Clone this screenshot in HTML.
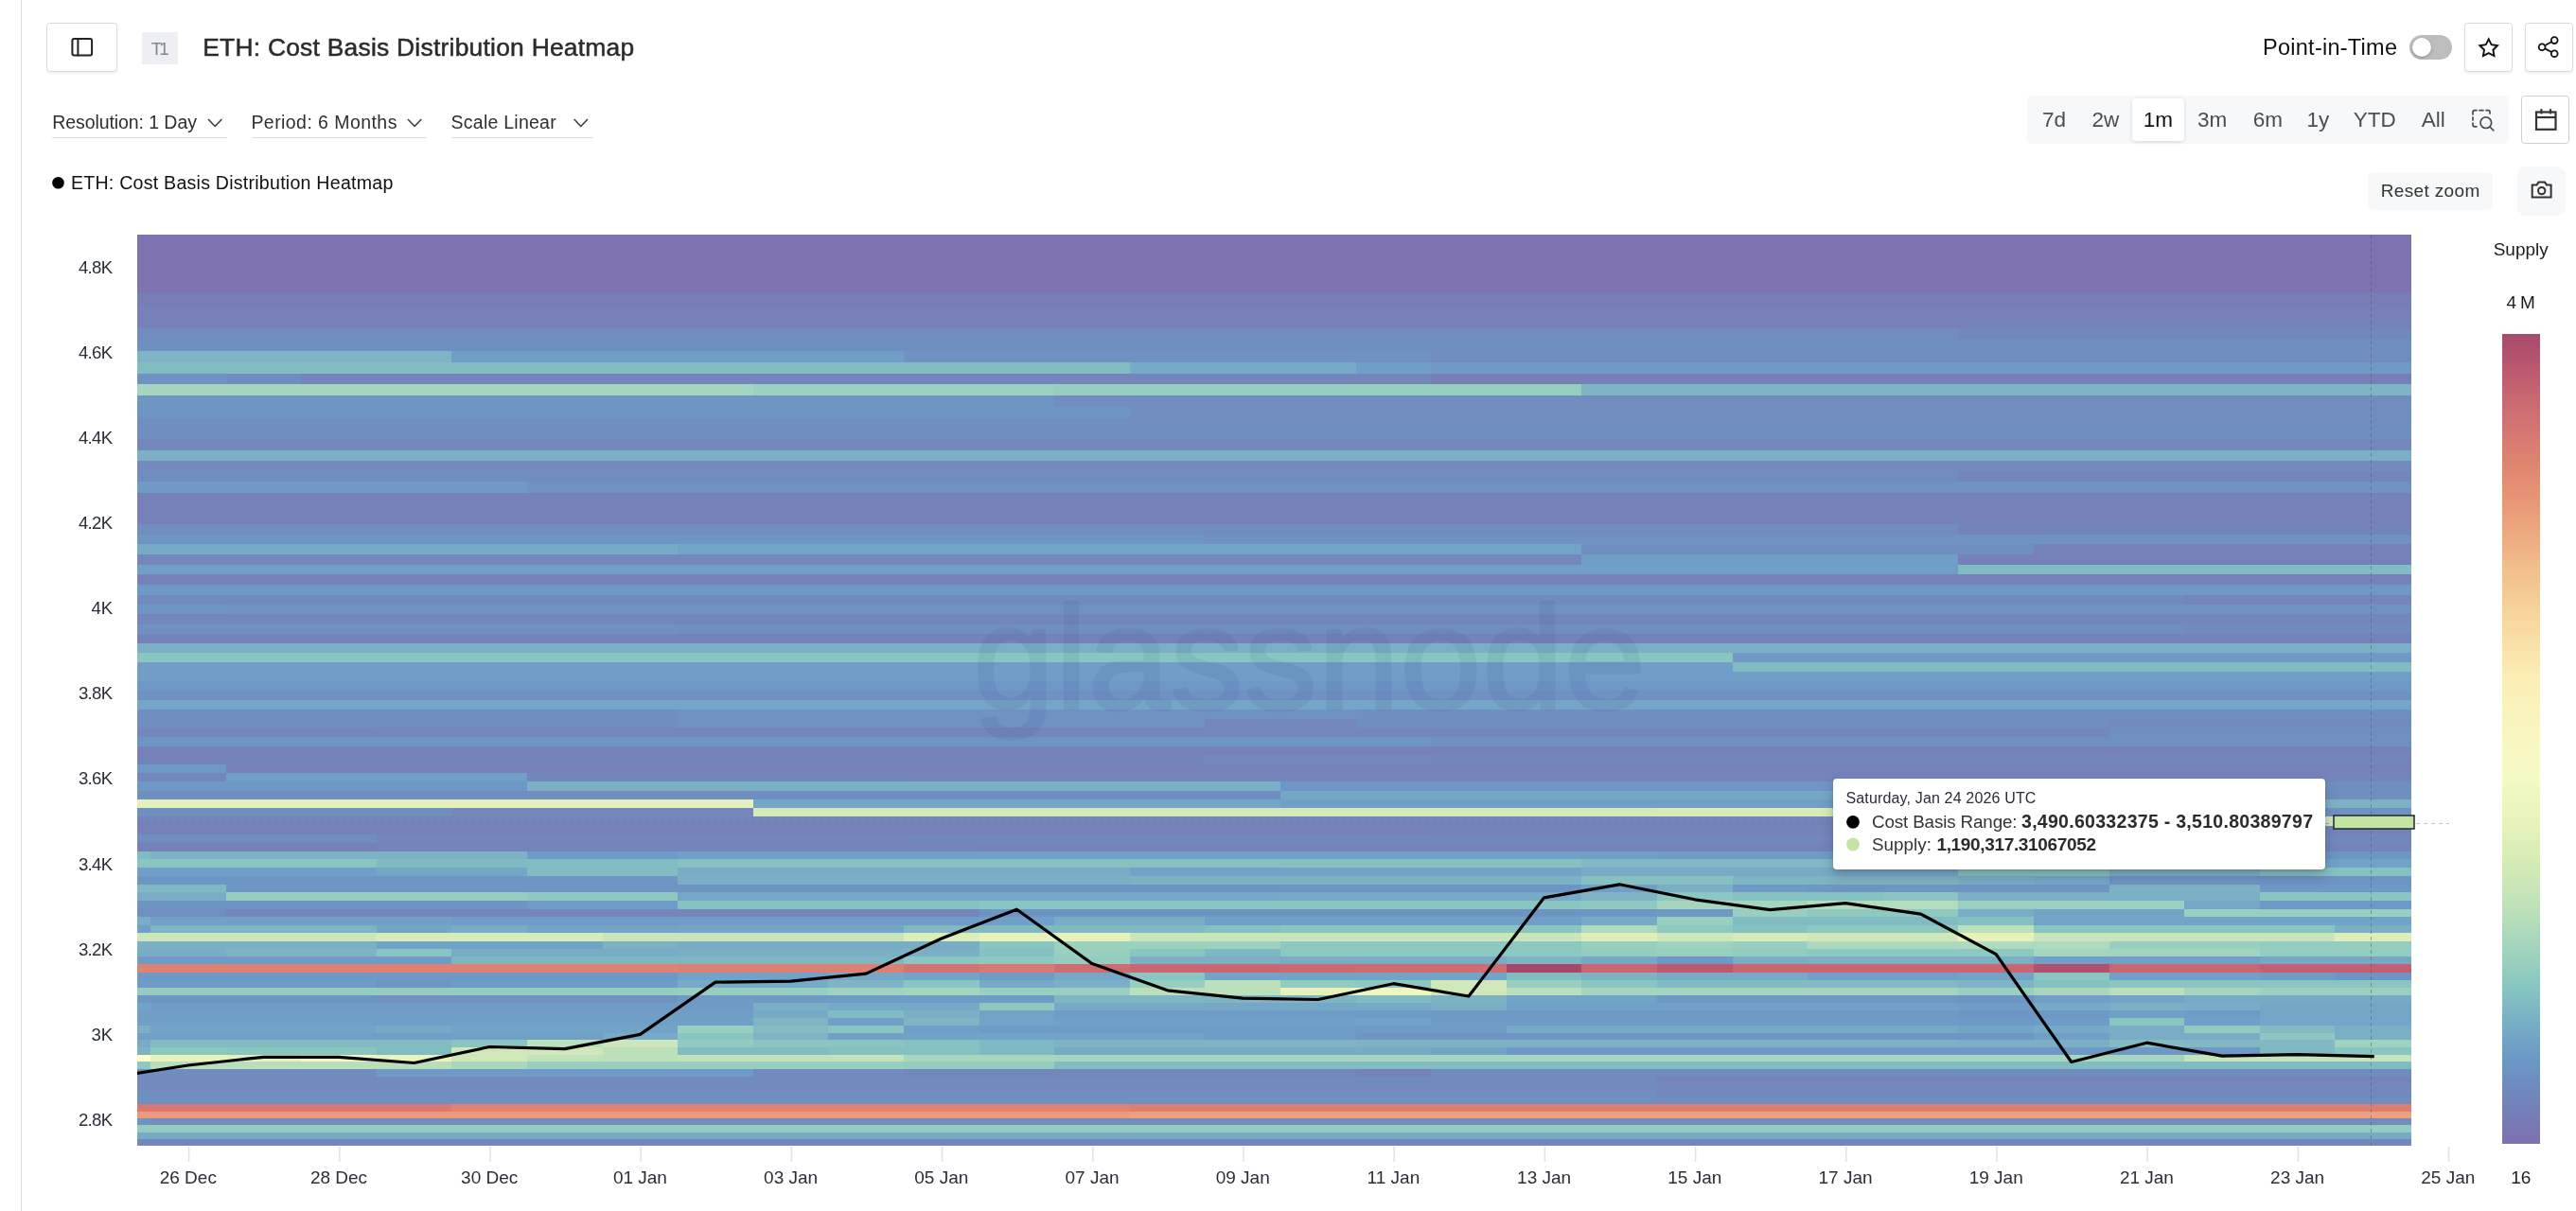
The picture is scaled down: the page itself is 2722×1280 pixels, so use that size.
<!DOCTYPE html><html><head><meta charset="utf-8"><title>ETH: Cost Basis Distribution Heatmap</title>
<style>
html,body{margin:0;padding:0;background:#fff;}
body{width:2722px;height:1280px;position:relative;overflow:hidden;font-family:"Liberation Sans", Arial, Helvetica, sans-serif;color:#222;}
.abs{position:absolute;box-sizing:border-box;}
.btn{border:1.5px solid #d8d8d8;border-radius:3.5px;background:#fff;box-shadow:0 2px 3px rgba(0,0,0,0.05);}
.soft{background:#f7f8fa;}
svg{position:absolute;left:0;top:0;will-change:transform;}
svg text{font-family:"Liberation Sans", Arial, Helvetica, sans-serif;}
#tip{position:absolute;left:1937px;top:823px;width:520px;height:96px;background:#fff;border-radius:4px;box-shadow:0 6px 14px rgba(30,40,60,0.28),0 1px 3px rgba(30,40,60,0.18);}
</style></head><body>
<div class="abs" style="left:22px;top:0;width:1px;height:1280px;background:#dcdcdc"></div>
<div class="abs btn" style="left:49px;top:24px;width:75px;height:52px"></div>
<div class="abs" style="left:150px;top:34px;width:38px;height:34px;background:#eeeff4"></div>
<div class="abs" style="left:2546px;top:37px;width:45px;height:26px;border-radius:13px;background:#bdbdbd"></div>
<div class="abs" style="left:2549px;top:40px;width:20px;height:20px;border-radius:10px;background:#fff;box-shadow:0 1px 3px rgba(0,0,0,0.3)"></div>
<div class="abs btn" style="left:2604px;top:24px;width:51px;height:52px"></div>
<div class="abs btn" style="left:2668px;top:24px;width:51px;height:52px"></div>
<div class="abs soft" style="left:2142px;top:101px;width:509px;height:51px;border-radius:5px"></div>
<div class="abs" style="left:2253px;top:104px;width:55px;height:45px;border-radius:4px;background:#fff;box-shadow:0 1px 4px rgba(0,0,0,0.14)"></div>
<div class="abs btn" style="left:2664px;top:101px;width:51px;height:51px;box-shadow:none;border-color:#cfcfcf"></div>
<div class="abs soft" style="left:2502px;top:182px;width:132px;height:40px;border-radius:7px"></div>
<div class="abs soft" style="left:2660px;top:176px;width:51px;height:52px;border-radius:9px"></div>
<div class="abs" style="left:55px;top:144.5px;width:184.5px;height:1.5px;background:#dcdcdc"></div>
<div class="abs" style="left:265.5px;top:144.5px;width:185px;height:1.5px;background:#dcdcdc"></div>
<div class="abs" style="left:476.5px;top:144.5px;width:150.5px;height:1.5px;background:#dcdcdc"></div>
<svg width="2722" height="1280" viewBox="0 0 2722 1280">
<g shape-rendering="crispEdges">
<rect x="145" y="248" width="2403" height="12" fill="#7e72b1"/>
<rect x="145" y="260" width="2403" height="13" fill="#7e72b1"/>
<rect x="145" y="273" width="2403" height="12" fill="#7e72b1"/>
<rect x="145" y="285" width="2403" height="13" fill="#7e72b1"/>
<rect x="145" y="298" width="2403" height="12" fill="#7e72b1"/>
<rect x="145" y="310" width="2403" height="12" fill="#787cb7"/>
<rect x="145" y="322" width="2403" height="13" fill="#7680b9"/>
<rect x="145" y="335" width="2403" height="12" fill="#7680b9"/>
<rect x="145" y="347" width="1924.4" height="12" fill="#718cbf"/>
<rect x="2069.4" y="347" width="478.6" height="12" fill="#7288bd"/>
<rect x="145" y="359" width="2403" height="12" fill="#708fc1"/>
<rect x="145" y="371" width="332.4" height="12" fill="#7eb4c4"/>
<rect x="477.4" y="371" width="477.6" height="12" fill="#709ec7"/>
<rect x="955" y="371" width="557.2" height="12" fill="#6f92c3"/>
<rect x="1512.2" y="371" width="1035.8" height="12" fill="#718cbf"/>
<rect x="145" y="383" width="1048.8" height="12" fill="#82bcc3"/>
<rect x="1193.8" y="383" width="238.8" height="12" fill="#76aac6"/>
<rect x="1432.6" y="383" width="79.6" height="12" fill="#709ec7"/>
<rect x="1512.2" y="383" width="1035.8" height="12" fill="#6f9ac6"/>
<rect x="145" y="395" width="93.6" height="11" fill="#6f92c3"/>
<rect x="238.6" y="395" width="79.6" height="11" fill="#718cbf"/>
<rect x="318.2" y="395" width="1194" height="11" fill="#7485bb"/>
<rect x="1512.2" y="395" width="1035.8" height="11" fill="#777eb8"/>
<rect x="145" y="406" width="650.8" height="12" fill="#a5d5be"/>
<rect x="795.8" y="406" width="318.4" height="12" fill="#9dd1bf"/>
<rect x="1114.2" y="406" width="557.2" height="12" fill="#96cec0"/>
<rect x="1671.4" y="406" width="876.6" height="12" fill="#7eb4c4"/>
<rect x="145" y="418" width="969.2" height="12" fill="#6e96c5"/>
<rect x="1114.2" y="418" width="1433.8" height="12" fill="#718cbf"/>
<rect x="145" y="430" width="1048.8" height="11" fill="#6e96c5"/>
<rect x="1193.8" y="430" width="1354.2" height="11" fill="#708dc0"/>
<rect x="145" y="441" width="1048.8" height="12" fill="#708fc1"/>
<rect x="1193.8" y="441" width="1354.2" height="12" fill="#718cbf"/>
<rect x="145" y="453" width="2403" height="11" fill="#708fc1"/>
<rect x="145" y="464" width="2403" height="12" fill="#7387bc"/>
<rect x="145" y="476" width="2403" height="11" fill="#7bafc5"/>
<rect x="145" y="487" width="2403" height="11" fill="#728abe"/>
<rect x="145" y="498" width="1924.4" height="11" fill="#718cbf"/>
<rect x="2069.4" y="498" width="478.6" height="11" fill="#7485bb"/>
<rect x="145" y="509" width="412" height="12" fill="#6f9ac6"/>
<rect x="557" y="509" width="1991" height="12" fill="#6f92c3"/>
<rect x="145" y="521" width="2403" height="11" fill="#7680b9"/>
<rect x="145" y="532" width="2403" height="11" fill="#7680b9"/>
<rect x="145" y="543" width="2403" height="11" fill="#7680b9"/>
<rect x="145" y="554" width="1924.4" height="11" fill="#718cbf"/>
<rect x="2069.4" y="554" width="478.6" height="11" fill="#7484ba"/>
<rect x="145" y="565" width="1128.4" height="10" fill="#6e96c5"/>
<rect x="1273.4" y="565" width="1274.6" height="10" fill="#6f92c3"/>
<rect x="145" y="575" width="571.2" height="11" fill="#76aac6"/>
<rect x="716.2" y="575" width="955.2" height="11" fill="#72a4c7"/>
<rect x="1671.4" y="575" width="477.6" height="11" fill="#708fc1"/>
<rect x="2149" y="575" width="399" height="11" fill="#7680b9"/>
<rect x="145" y="586" width="1526.4" height="11" fill="#7387bc"/>
<rect x="1671.4" y="586" width="398" height="11" fill="#709ec7"/>
<rect x="2069.4" y="586" width="478.6" height="11" fill="#7680b9"/>
<rect x="145" y="597" width="1924.4" height="10" fill="#709ec7"/>
<rect x="2069.4" y="597" width="478.6" height="10" fill="#82bcc3"/>
<rect x="145" y="607" width="2403" height="11" fill="#7680b9"/>
<rect x="145" y="618" width="2403" height="11" fill="#6e98c6"/>
<rect x="145" y="629" width="2163.2" height="10" fill="#728abe"/>
<rect x="2308.2" y="629" width="239.8" height="10" fill="#7485bb"/>
<rect x="145" y="639" width="93.6" height="10" fill="#6e96c5"/>
<rect x="238.6" y="639" width="2309.4" height="10" fill="#6f92c3"/>
<rect x="145" y="649" width="2403" height="11" fill="#7387bc"/>
<rect x="145" y="660" width="571.2" height="10" fill="#6f92c3"/>
<rect x="716.2" y="660" width="1592" height="10" fill="#708fc1"/>
<rect x="2308.2" y="660" width="239.8" height="10" fill="#728abe"/>
<rect x="145" y="670" width="2403" height="10" fill="#7484ba"/>
<rect x="145" y="680" width="2403" height="10" fill="#7bafc5"/>
<rect x="145" y="690" width="1685.6" height="10" fill="#8ac6c1"/>
<rect x="1830.6" y="690" width="717.4" height="10" fill="#6f9ac6"/>
<rect x="145" y="700" width="1685.6" height="10" fill="#709ec7"/>
<rect x="1830.6" y="700" width="717.4" height="10" fill="#82bcc3"/>
<rect x="145" y="710" width="2403" height="10" fill="#709ec7"/>
<rect x="145" y="720" width="2403" height="10" fill="#6e98c6"/>
<rect x="145" y="730" width="2403" height="10" fill="#6f92c3"/>
<rect x="145" y="740" width="2403" height="10" fill="#74a6c7"/>
<rect x="145" y="750" width="571.2" height="10" fill="#708fc1"/>
<rect x="716.2" y="750" width="716.4" height="10" fill="#6f92c3"/>
<rect x="1432.6" y="750" width="1115.4" height="10" fill="#708fc1"/>
<rect x="145" y="760" width="252.8" height="9" fill="#708fc1"/>
<rect x="397.8" y="760" width="318.4" height="9" fill="#708dc0"/>
<rect x="716.2" y="760" width="557.2" height="9" fill="#6f92c3"/>
<rect x="1273.4" y="760" width="159.2" height="9" fill="#7387bc"/>
<rect x="1432.6" y="760" width="796" height="9" fill="#708fc1"/>
<rect x="2228.6" y="760" width="319.4" height="9" fill="#728abe"/>
<rect x="145" y="769" width="2083.6" height="10" fill="#7387bc"/>
<rect x="2228.6" y="769" width="319.4" height="10" fill="#708fc1"/>
<rect x="145" y="779" width="1367.2" height="10" fill="#6e94c4"/>
<rect x="1512.2" y="779" width="1035.8" height="10" fill="#6f91c2"/>
<rect x="145" y="789" width="2403" height="9" fill="#7680b9"/>
<rect x="145" y="798" width="1128.4" height="10" fill="#7484ba"/>
<rect x="1273.4" y="798" width="238.8" height="10" fill="#7387bc"/>
<rect x="1512.2" y="798" width="1035.8" height="10" fill="#7485bb"/>
<rect x="145" y="808" width="93.6" height="9" fill="#6e98c6"/>
<rect x="238.6" y="808" width="2309.4" height="9" fill="#7680b9"/>
<rect x="145" y="817" width="93.6" height="9" fill="#7288bd"/>
<rect x="238.6" y="817" width="318.4" height="9" fill="#70a0c8"/>
<rect x="557" y="817" width="398" height="9" fill="#7288bd"/>
<rect x="955" y="817" width="1593" height="9" fill="#7485bb"/>
<rect x="145" y="826" width="412" height="10" fill="#6e98c6"/>
<rect x="557" y="826" width="796" height="10" fill="#7bafc5"/>
<rect x="1353" y="826" width="1034.8" height="10" fill="#6e96c5"/>
<rect x="2387.8" y="826" width="160.2" height="10" fill="#708fc1"/>
<rect x="145" y="836" width="1208" height="9" fill="#708fc1"/>
<rect x="1353" y="836" width="1034.8" height="9" fill="#75a8c6"/>
<rect x="2387.8" y="836" width="160.2" height="9" fill="#708fc1"/>
<rect x="145" y="845" width="650.8" height="9" fill="#e4f0b9"/>
<rect x="795.8" y="845" width="557.2" height="9" fill="#74a6c7"/>
<rect x="1353" y="845" width="1034.8" height="9" fill="#70a0c8"/>
<rect x="2387.8" y="845" width="160.2" height="9" fill="#7db2c4"/>
<rect x="145" y="854" width="332.4" height="9" fill="#708fc1"/>
<rect x="477.4" y="854" width="318.4" height="9" fill="#7387bc"/>
<rect x="795.8" y="854" width="955.2" height="9" fill="#d5e9ba"/>
<rect x="1751" y="854" width="636.8" height="9" fill="#daebba"/>
<rect x="2387.8" y="854" width="160.2" height="9" fill="#6f92c3"/>
<rect x="145" y="863" width="2242.8" height="10" fill="#7484ba"/>
<rect x="2387.8" y="863" width="160.2" height="10" fill="#d5e9ba"/>
<rect x="145" y="873" width="1367.2" height="9" fill="#7681b9"/>
<rect x="1512.2" y="873" width="1035.8" height="9" fill="#7484ba"/>
<rect x="145" y="882" width="252.8" height="9" fill="#708dc0"/>
<rect x="397.8" y="882" width="557.2" height="9" fill="#7485bb"/>
<rect x="955" y="882" width="1593" height="9" fill="#7288bd"/>
<rect x="145" y="891" width="252.8" height="9" fill="#7582ba"/>
<rect x="397.8" y="891" width="636.8" height="9" fill="#7485bb"/>
<rect x="1034.6" y="891" width="1513.4" height="9" fill="#7484ba"/>
<rect x="145" y="900" width="14" height="8" fill="#82bcc3"/>
<rect x="159" y="900" width="398" height="8" fill="#7db2c4"/>
<rect x="557" y="900" width="159.2" height="8" fill="#6f9cc7"/>
<rect x="716.2" y="900" width="1034.8" height="8" fill="#70a0c8"/>
<rect x="1751" y="900" width="636.8" height="8" fill="#6f9cc7"/>
<rect x="2387.8" y="900" width="160.2" height="8" fill="#6e96c5"/>
<rect x="145" y="908" width="252.8" height="9" fill="#8ac6c1"/>
<rect x="397.8" y="908" width="159.2" height="9" fill="#81bac3"/>
<rect x="557" y="908" width="159.2" height="9" fill="#82bcc3"/>
<rect x="716.2" y="908" width="955.2" height="9" fill="#86c1c2"/>
<rect x="1671.4" y="908" width="716.4" height="9" fill="#80b8c3"/>
<rect x="2387.8" y="908" width="160.2" height="9" fill="#71a2c8"/>
<rect x="145" y="917" width="252.8" height="9" fill="#70a0c8"/>
<rect x="397.8" y="917" width="159.2" height="9" fill="#75a8c6"/>
<rect x="557" y="917" width="159.2" height="9" fill="#82bcc3"/>
<rect x="716.2" y="917" width="477.6" height="9" fill="#78adc5"/>
<rect x="1193.8" y="917" width="159.2" height="9" fill="#71a2c8"/>
<rect x="1353" y="917" width="318.4" height="9" fill="#72a4c7"/>
<rect x="1671.4" y="917" width="398" height="9" fill="#76aac6"/>
<rect x="2069.4" y="917" width="159.2" height="9" fill="#8ac6c1"/>
<rect x="2228.6" y="917" width="159.2" height="9" fill="#7db2c4"/>
<rect x="2387.8" y="917" width="160.2" height="9" fill="#86c1c2"/>
<rect x="145" y="926" width="571.2" height="9" fill="#6e96c5"/>
<rect x="716.2" y="926" width="477.6" height="9" fill="#7bafc5"/>
<rect x="1193.8" y="926" width="477.6" height="9" fill="#7db2c4"/>
<rect x="1671.4" y="926" width="159.2" height="9" fill="#86c1c2"/>
<rect x="1830.6" y="926" width="238.8" height="9" fill="#7eb4c4"/>
<rect x="2069.4" y="926" width="79.6" height="9" fill="#78adc5"/>
<rect x="2149" y="926" width="79.6" height="9" fill="#75a8c6"/>
<rect x="2228.6" y="926" width="319.4" height="9" fill="#6e94c4"/>
<rect x="145" y="935" width="93.6" height="8" fill="#80b8c3"/>
<rect x="238.6" y="935" width="477.6" height="8" fill="#6e96c5"/>
<rect x="716.2" y="935" width="955.2" height="8" fill="#6e94c4"/>
<rect x="1671.4" y="935" width="79.6" height="8" fill="#70a0c8"/>
<rect x="1751" y="935" width="79.6" height="8" fill="#7bafc5"/>
<rect x="1830.6" y="935" width="79.6" height="8" fill="#6e98c6"/>
<rect x="1910.2" y="935" width="318.4" height="8" fill="#6e96c5"/>
<rect x="2228.6" y="935" width="159.2" height="8" fill="#7db2c4"/>
<rect x="2387.8" y="935" width="160.2" height="8" fill="#6e98c6"/>
<rect x="145" y="943" width="93.6" height="9" fill="#78adc5"/>
<rect x="238.6" y="943" width="318.4" height="9" fill="#94cdc0"/>
<rect x="557" y="943" width="159.2" height="9" fill="#8ec9c1"/>
<rect x="716.2" y="943" width="636.8" height="9" fill="#75a8c6"/>
<rect x="1353" y="943" width="318.4" height="9" fill="#76aac6"/>
<rect x="1671.4" y="943" width="79.6" height="9" fill="#7eb4c4"/>
<rect x="1751" y="943" width="79.6" height="9" fill="#8cc7c1"/>
<rect x="1830.6" y="943" width="159.2" height="9" fill="#86c1c2"/>
<rect x="1989.8" y="943" width="79.6" height="9" fill="#8ac6c1"/>
<rect x="2069.4" y="943" width="318.4" height="9" fill="#7bafc5"/>
<rect x="2387.8" y="943" width="160.2" height="9" fill="#8ac6c1"/>
<rect x="145" y="952" width="412" height="9" fill="#6e94c4"/>
<rect x="557" y="952" width="159.2" height="9" fill="#6f9cc7"/>
<rect x="716.2" y="952" width="318.4" height="9" fill="#86c1c2"/>
<rect x="1034.6" y="952" width="636.8" height="9" fill="#8ac6c1"/>
<rect x="1671.4" y="952" width="79.6" height="9" fill="#8ec9c1"/>
<rect x="1751" y="952" width="159.2" height="9" fill="#a5d5be"/>
<rect x="1910.2" y="952" width="159.2" height="9" fill="#b2dcbc"/>
<rect x="2069.4" y="952" width="238.8" height="9" fill="#98cfc0"/>
<rect x="2308.2" y="952" width="79.6" height="9" fill="#75a8c6"/>
<rect x="2387.8" y="952" width="160.2" height="9" fill="#6e98c6"/>
<rect x="145" y="961" width="93.6" height="8" fill="#708fc1"/>
<rect x="238.6" y="961" width="796" height="8" fill="#7387bc"/>
<rect x="1034.6" y="961" width="636.8" height="8" fill="#6e94c4"/>
<rect x="1671.4" y="961" width="79.6" height="8" fill="#6e96c5"/>
<rect x="1751" y="961" width="79.6" height="8" fill="#6e98c6"/>
<rect x="1830.6" y="961" width="79.6" height="8" fill="#98cfc0"/>
<rect x="1910.2" y="961" width="159.2" height="8" fill="#8ec9c1"/>
<rect x="2069.4" y="961" width="79.6" height="8" fill="#78adc5"/>
<rect x="2149" y="961" width="159.2" height="8" fill="#72a4c7"/>
<rect x="2308.2" y="961" width="239.8" height="8" fill="#98cfc0"/>
<rect x="145" y="969" width="14" height="9" fill="#78adc5"/>
<rect x="159" y="969" width="318.4" height="9" fill="#70a0c8"/>
<rect x="477.4" y="969" width="557.2" height="9" fill="#6f9cc7"/>
<rect x="1034.6" y="969" width="79.6" height="9" fill="#70a0c8"/>
<rect x="1114.2" y="969" width="159.2" height="9" fill="#78adc5"/>
<rect x="1273.4" y="969" width="398" height="9" fill="#70a0c8"/>
<rect x="1671.4" y="969" width="79.6" height="9" fill="#76aac6"/>
<rect x="1751" y="969" width="79.6" height="9" fill="#98cfc0"/>
<rect x="1830.6" y="969" width="238.8" height="9" fill="#82bcc3"/>
<rect x="2069.4" y="969" width="79.6" height="9" fill="#86c1c2"/>
<rect x="2149" y="969" width="399" height="9" fill="#72a4c7"/>
<rect x="145" y="978" width="14" height="8" fill="#70a0c8"/>
<rect x="159" y="978" width="238.8" height="8" fill="#7eb4c4"/>
<rect x="397.8" y="978" width="79.6" height="8" fill="#74a6c7"/>
<rect x="477.4" y="978" width="79.6" height="8" fill="#78adc5"/>
<rect x="557" y="978" width="159.2" height="8" fill="#72a4c7"/>
<rect x="716.2" y="978" width="238.8" height="8" fill="#74a6c7"/>
<rect x="955" y="978" width="318.4" height="8" fill="#80b8c3"/>
<rect x="1273.4" y="978" width="79.6" height="8" fill="#86c1c2"/>
<rect x="1353" y="978" width="318.4" height="8" fill="#8ac6c1"/>
<rect x="1671.4" y="978" width="79.6" height="8" fill="#aedabd"/>
<rect x="1751" y="978" width="79.6" height="8" fill="#8ec9c1"/>
<rect x="1830.6" y="978" width="79.6" height="8" fill="#86c1c2"/>
<rect x="1910.2" y="978" width="159.2" height="8" fill="#8ec9c1"/>
<rect x="2069.4" y="978" width="79.6" height="8" fill="#bde0bc"/>
<rect x="2149" y="978" width="318.4" height="8" fill="#8ac6c1"/>
<rect x="2467.4" y="978" width="80.6" height="8" fill="#7bafc5"/>
<rect x="145" y="986" width="252.8" height="9" fill="#cde6bb"/>
<rect x="397.8" y="986" width="238.8" height="9" fill="#d8ebba"/>
<rect x="636.6" y="986" width="318.4" height="9" fill="#cae5bc"/>
<rect x="955" y="986" width="79.6" height="9" fill="#dcedb9"/>
<rect x="1034.6" y="986" width="159.2" height="9" fill="#e7f2bb"/>
<rect x="1193.8" y="986" width="477.6" height="9" fill="#cae5bc"/>
<rect x="1671.4" y="986" width="79.6" height="9" fill="#deedb9"/>
<rect x="1751" y="986" width="79.6" height="9" fill="#cde6bb"/>
<rect x="1830.6" y="986" width="79.6" height="9" fill="#d6eaba"/>
<rect x="1910.2" y="986" width="159.2" height="9" fill="#d0e7ba"/>
<rect x="2069.4" y="986" width="79.6" height="9" fill="#e7f2bb"/>
<rect x="2149" y="986" width="318.4" height="9" fill="#cae5bc"/>
<rect x="2467.4" y="986" width="80.6" height="9" fill="#deedb9"/>
<rect x="145" y="995" width="252.8" height="8" fill="#7bafc5"/>
<rect x="397.8" y="995" width="238.8" height="8" fill="#71a2c8"/>
<rect x="636.6" y="995" width="79.6" height="8" fill="#7db2c4"/>
<rect x="716.2" y="995" width="318.4" height="8" fill="#78adc5"/>
<rect x="1034.6" y="995" width="79.6" height="8" fill="#8ac6c1"/>
<rect x="1114.2" y="995" width="238.8" height="8" fill="#9cd1bf"/>
<rect x="1353" y="995" width="318.4" height="8" fill="#8ec9c1"/>
<rect x="1671.4" y="995" width="79.6" height="8" fill="#98cfc0"/>
<rect x="1751" y="995" width="79.6" height="8" fill="#9fd2bf"/>
<rect x="1830.6" y="995" width="79.6" height="8" fill="#98cfc0"/>
<rect x="1910.2" y="995" width="159.2" height="8" fill="#acd8bd"/>
<rect x="2069.4" y="995" width="159.2" height="8" fill="#aedabd"/>
<rect x="2228.6" y="995" width="159.2" height="8" fill="#98cfc0"/>
<rect x="2387.8" y="995" width="160.2" height="8" fill="#94cdc0"/>
<rect x="145" y="1003" width="93.6" height="8" fill="#78adc5"/>
<rect x="238.6" y="1003" width="159.2" height="8" fill="#7eb4c4"/>
<rect x="397.8" y="1003" width="79.6" height="8" fill="#8ac6c1"/>
<rect x="477.4" y="1003" width="238.8" height="8" fill="#78adc5"/>
<rect x="716.2" y="1003" width="318.4" height="8" fill="#7bafc5"/>
<rect x="1034.6" y="1003" width="79.6" height="8" fill="#86c1c2"/>
<rect x="1114.2" y="1003" width="79.6" height="8" fill="#98cfc0"/>
<rect x="1193.8" y="1003" width="79.6" height="8" fill="#8ac6c1"/>
<rect x="1273.4" y="1003" width="79.6" height="8" fill="#7fb6c4"/>
<rect x="1353" y="1003" width="318.4" height="8" fill="#8ec9c1"/>
<rect x="1671.4" y="1003" width="79.6" height="8" fill="#94cdc0"/>
<rect x="1751" y="1003" width="79.6" height="8" fill="#98cfc0"/>
<rect x="1830.6" y="1003" width="79.6" height="8" fill="#92ccc0"/>
<rect x="1910.2" y="1003" width="238.8" height="8" fill="#8ec9c1"/>
<rect x="2149" y="1003" width="79.6" height="8" fill="#a5d5be"/>
<rect x="2228.6" y="1003" width="159.2" height="8" fill="#a1d3be"/>
<rect x="2387.8" y="1003" width="160.2" height="8" fill="#94cdc0"/>
<rect x="145" y="1011" width="332.4" height="8" fill="#6f9cc7"/>
<rect x="477.4" y="1011" width="477.6" height="8" fill="#7fb6c4"/>
<rect x="955" y="1011" width="79.6" height="8" fill="#8ac6c1"/>
<rect x="1034.6" y="1011" width="79.6" height="8" fill="#8ec9c1"/>
<rect x="1114.2" y="1011" width="79.6" height="8" fill="#94cdc0"/>
<rect x="1193.8" y="1011" width="159.2" height="8" fill="#7bafc5"/>
<rect x="1353" y="1011" width="238.8" height="8" fill="#78adc5"/>
<rect x="1591.8" y="1011" width="79.6" height="8" fill="#7eb4c4"/>
<rect x="1671.4" y="1011" width="79.6" height="8" fill="#75a8c6"/>
<rect x="1751" y="1011" width="79.6" height="8" fill="#6e98c6"/>
<rect x="1830.6" y="1011" width="79.6" height="8" fill="#78adc5"/>
<rect x="1910.2" y="1011" width="238.8" height="8" fill="#7bafc5"/>
<rect x="2149" y="1011" width="238.8" height="8" fill="#70a0c8"/>
<rect x="2387.8" y="1011" width="160.2" height="8" fill="#75a8c6"/>
<rect x="145" y="1019" width="571.2" height="9" fill="#e08173"/>
<rect x="716.2" y="1019" width="238.8" height="9" fill="#de7f74"/>
<rect x="955" y="1019" width="79.6" height="9" fill="#d47174"/>
<rect x="1034.6" y="1019" width="79.6" height="9" fill="#d87976"/>
<rect x="1114.2" y="1019" width="79.6" height="9" fill="#d06b72"/>
<rect x="1193.8" y="1019" width="159.2" height="9" fill="#cd6470"/>
<rect x="1353" y="1019" width="79.6" height="9" fill="#cf6871"/>
<rect x="1432.6" y="1019" width="159.2" height="9" fill="#d06b72"/>
<rect x="1591.8" y="1019" width="79.6" height="9" fill="#a7476b"/>
<rect x="1671.4" y="1019" width="79.6" height="9" fill="#cd6470"/>
<rect x="1751" y="1019" width="79.6" height="9" fill="#bd586e"/>
<rect x="1830.6" y="1019" width="318.4" height="9" fill="#cd6470"/>
<rect x="2149" y="1019" width="79.6" height="9" fill="#b3506d"/>
<rect x="2228.6" y="1019" width="159.2" height="9" fill="#cd6470"/>
<rect x="2387.8" y="1019" width="160.2" height="9" fill="#c55e6f"/>
<rect x="145" y="1028" width="571.2" height="8" fill="#6e98c6"/>
<rect x="716.2" y="1028" width="159.2" height="8" fill="#71a2c8"/>
<rect x="875.4" y="1028" width="79.6" height="8" fill="#75a8c6"/>
<rect x="955" y="1028" width="79.6" height="8" fill="#72a4c7"/>
<rect x="1034.6" y="1028" width="79.6" height="8" fill="#6f9cc7"/>
<rect x="1114.2" y="1028" width="79.6" height="8" fill="#75a8c6"/>
<rect x="1193.8" y="1028" width="79.6" height="8" fill="#8ac6c1"/>
<rect x="1273.4" y="1028" width="318.4" height="8" fill="#72a4c7"/>
<rect x="1591.8" y="1028" width="79.6" height="8" fill="#82bcc3"/>
<rect x="1671.4" y="1028" width="79.6" height="8" fill="#7db2c4"/>
<rect x="1751" y="1028" width="159.2" height="8" fill="#76aac6"/>
<rect x="1910.2" y="1028" width="159.2" height="8" fill="#70a0c8"/>
<rect x="2069.4" y="1028" width="79.6" height="8" fill="#72a4c7"/>
<rect x="2149" y="1028" width="79.6" height="8" fill="#8ac6c1"/>
<rect x="2228.6" y="1028" width="159.2" height="8" fill="#70a0c8"/>
<rect x="2387.8" y="1028" width="79.6" height="8" fill="#6f9cc7"/>
<rect x="2467.4" y="1028" width="80.6" height="8" fill="#6e94c4"/>
<rect x="145" y="1036" width="252.8" height="8" fill="#6f9cc7"/>
<rect x="397.8" y="1036" width="79.6" height="8" fill="#6e96c5"/>
<rect x="477.4" y="1036" width="238.8" height="8" fill="#6f9cc7"/>
<rect x="716.2" y="1036" width="159.2" height="8" fill="#76aac6"/>
<rect x="875.4" y="1036" width="79.6" height="8" fill="#7eb4c4"/>
<rect x="955" y="1036" width="79.6" height="8" fill="#8ac6c1"/>
<rect x="1034.6" y="1036" width="79.6" height="8" fill="#76aac6"/>
<rect x="1114.2" y="1036" width="79.6" height="8" fill="#7bafc5"/>
<rect x="1193.8" y="1036" width="79.6" height="8" fill="#96cec0"/>
<rect x="1273.4" y="1036" width="79.6" height="8" fill="#bde0bc"/>
<rect x="1353" y="1036" width="79.6" height="8" fill="#92ccc0"/>
<rect x="1432.6" y="1036" width="79.6" height="8" fill="#8ec9c1"/>
<rect x="1512.2" y="1036" width="79.6" height="8" fill="#d0e7ba"/>
<rect x="1591.8" y="1036" width="79.6" height="8" fill="#98cfc0"/>
<rect x="1671.4" y="1036" width="79.6" height="8" fill="#8ac6c1"/>
<rect x="1751" y="1036" width="318.4" height="8" fill="#82bcc3"/>
<rect x="2069.4" y="1036" width="79.6" height="8" fill="#7eb4c4"/>
<rect x="2149" y="1036" width="79.6" height="8" fill="#86c1c2"/>
<rect x="2228.6" y="1036" width="319.4" height="8" fill="#8ac6c1"/>
<rect x="145" y="1044" width="571.2" height="8" fill="#94cdc0"/>
<rect x="716.2" y="1044" width="159.2" height="8" fill="#96cec0"/>
<rect x="875.4" y="1044" width="79.6" height="8" fill="#9fd2bf"/>
<rect x="955" y="1044" width="79.6" height="8" fill="#a5d5be"/>
<rect x="1034.6" y="1044" width="159.2" height="8" fill="#98cfc0"/>
<rect x="1193.8" y="1044" width="79.6" height="8" fill="#badfbc"/>
<rect x="1273.4" y="1044" width="79.6" height="8" fill="#bde0bc"/>
<rect x="1353" y="1044" width="79.6" height="8" fill="#e7f2bb"/>
<rect x="1432.6" y="1044" width="79.6" height="8" fill="#eef5bf"/>
<rect x="1512.2" y="1044" width="79.6" height="8" fill="#d0e7ba"/>
<rect x="1591.8" y="1044" width="79.6" height="8" fill="#badfbc"/>
<rect x="1671.4" y="1044" width="398" height="8" fill="#a5d5be"/>
<rect x="2069.4" y="1044" width="79.6" height="8" fill="#98cfc0"/>
<rect x="2149" y="1044" width="79.6" height="8" fill="#a9d7bd"/>
<rect x="2228.6" y="1044" width="79.6" height="8" fill="#badfbc"/>
<rect x="2308.2" y="1044" width="79.6" height="8" fill="#a5d5be"/>
<rect x="2387.8" y="1044" width="160.2" height="8" fill="#9ad0bf"/>
<rect x="145" y="1052" width="252.8" height="8" fill="#6e96c5"/>
<rect x="397.8" y="1052" width="318.4" height="8" fill="#6f92c3"/>
<rect x="716.2" y="1052" width="159.2" height="8" fill="#6f9ac6"/>
<rect x="875.4" y="1052" width="238.8" height="8" fill="#6f9cc7"/>
<rect x="1114.2" y="1052" width="318.4" height="8" fill="#7fb6c4"/>
<rect x="1432.6" y="1052" width="79.6" height="8" fill="#82bcc3"/>
<rect x="1512.2" y="1052" width="79.6" height="8" fill="#7db2c4"/>
<rect x="1591.8" y="1052" width="159.2" height="8" fill="#72a4c7"/>
<rect x="1751" y="1052" width="318.4" height="8" fill="#6e98c6"/>
<rect x="2069.4" y="1052" width="79.6" height="8" fill="#6e96c5"/>
<rect x="2149" y="1052" width="79.6" height="8" fill="#70a0c8"/>
<rect x="2228.6" y="1052" width="79.6" height="8" fill="#72a4c7"/>
<rect x="2308.2" y="1052" width="239.8" height="8" fill="#76aac6"/>
<rect x="145" y="1060" width="14" height="8" fill="#71a2c8"/>
<rect x="159" y="1060" width="636.8" height="8" fill="#6f9cc7"/>
<rect x="795.8" y="1060" width="79.6" height="8" fill="#7bafc5"/>
<rect x="875.4" y="1060" width="159.2" height="8" fill="#76aac6"/>
<rect x="1034.6" y="1060" width="79.6" height="8" fill="#8ec9c1"/>
<rect x="1114.2" y="1060" width="159.2" height="8" fill="#76aac6"/>
<rect x="1273.4" y="1060" width="159.2" height="8" fill="#75a8c6"/>
<rect x="1432.6" y="1060" width="79.6" height="8" fill="#76aac6"/>
<rect x="1512.2" y="1060" width="79.6" height="8" fill="#7bafc5"/>
<rect x="1591.8" y="1060" width="477.6" height="8" fill="#70a0c8"/>
<rect x="2069.4" y="1060" width="79.6" height="8" fill="#6f9cc7"/>
<rect x="2149" y="1060" width="79.6" height="8" fill="#76aac6"/>
<rect x="2228.6" y="1060" width="79.6" height="8" fill="#7bafc5"/>
<rect x="2308.2" y="1060" width="79.6" height="8" fill="#78adc5"/>
<rect x="2387.8" y="1060" width="160.2" height="8" fill="#74a6c7"/>
<rect x="145" y="1068" width="650.8" height="8" fill="#709ec7"/>
<rect x="795.8" y="1068" width="79.6" height="8" fill="#76aac6"/>
<rect x="875.4" y="1068" width="79.6" height="8" fill="#82bcc3"/>
<rect x="955" y="1068" width="79.6" height="8" fill="#7bafc5"/>
<rect x="1034.6" y="1068" width="79.6" height="8" fill="#72a4c7"/>
<rect x="1114.2" y="1068" width="398" height="8" fill="#6f9cc7"/>
<rect x="1512.2" y="1068" width="557.2" height="8" fill="#6f9ac6"/>
<rect x="2069.4" y="1068" width="79.6" height="8" fill="#6e96c5"/>
<rect x="2149" y="1068" width="79.6" height="8" fill="#6e98c6"/>
<rect x="2228.6" y="1068" width="79.6" height="8" fill="#70a0c8"/>
<rect x="2308.2" y="1068" width="79.6" height="8" fill="#6f9cc7"/>
<rect x="2387.8" y="1068" width="160.2" height="8" fill="#74a6c7"/>
<rect x="145" y="1076" width="650.8" height="8" fill="#70a0c8"/>
<rect x="795.8" y="1076" width="79.6" height="8" fill="#7fb6c4"/>
<rect x="875.4" y="1076" width="79.6" height="8" fill="#70a0c8"/>
<rect x="955" y="1076" width="79.6" height="8" fill="#7eb4c4"/>
<rect x="1034.6" y="1076" width="79.6" height="8" fill="#72a4c7"/>
<rect x="1114.2" y="1076" width="318.4" height="8" fill="#70a0c8"/>
<rect x="1432.6" y="1076" width="79.6" height="8" fill="#71a2c8"/>
<rect x="1512.2" y="1076" width="557.2" height="8" fill="#6f9cc7"/>
<rect x="2069.4" y="1076" width="79.6" height="8" fill="#6e98c6"/>
<rect x="2149" y="1076" width="79.6" height="8" fill="#6f9cc7"/>
<rect x="2228.6" y="1076" width="79.6" height="8" fill="#8ac6c1"/>
<rect x="2308.2" y="1076" width="79.6" height="8" fill="#70a0c8"/>
<rect x="2387.8" y="1076" width="160.2" height="8" fill="#74a6c7"/>
<rect x="145" y="1084" width="14" height="8" fill="#7bafc5"/>
<rect x="159" y="1084" width="238.8" height="8" fill="#72a4c7"/>
<rect x="397.8" y="1084" width="79.6" height="8" fill="#76aac6"/>
<rect x="477.4" y="1084" width="238.8" height="8" fill="#72a4c7"/>
<rect x="716.2" y="1084" width="79.6" height="8" fill="#98cfc0"/>
<rect x="795.8" y="1084" width="79.6" height="8" fill="#82bcc3"/>
<rect x="875.4" y="1084" width="79.6" height="8" fill="#8ac6c1"/>
<rect x="955" y="1084" width="79.6" height="8" fill="#70a0c8"/>
<rect x="1034.6" y="1084" width="557.2" height="8" fill="#6f9cc7"/>
<rect x="1591.8" y="1084" width="477.6" height="8" fill="#76aac6"/>
<rect x="2069.4" y="1084" width="79.6" height="8" fill="#72a4c7"/>
<rect x="2149" y="1084" width="79.6" height="8" fill="#76aac6"/>
<rect x="2228.6" y="1084" width="79.6" height="8" fill="#78adc5"/>
<rect x="2308.2" y="1084" width="79.6" height="8" fill="#92ccc0"/>
<rect x="2387.8" y="1084" width="79.6" height="8" fill="#82bcc3"/>
<rect x="2467.4" y="1084" width="80.6" height="8" fill="#7bafc5"/>
<rect x="145" y="1092" width="491.6" height="7" fill="#70a0c8"/>
<rect x="636.6" y="1092" width="79.6" height="7" fill="#76aac6"/>
<rect x="716.2" y="1092" width="79.6" height="7" fill="#8ac6c1"/>
<rect x="795.8" y="1092" width="79.6" height="7" fill="#7eb4c4"/>
<rect x="875.4" y="1092" width="79.6" height="7" fill="#70a0c8"/>
<rect x="955" y="1092" width="318.4" height="7" fill="#71a2c8"/>
<rect x="1273.4" y="1092" width="159.2" height="7" fill="#6f9cc7"/>
<rect x="1432.6" y="1092" width="716.4" height="7" fill="#6e96c5"/>
<rect x="2149" y="1092" width="79.6" height="7" fill="#70a0c8"/>
<rect x="2228.6" y="1092" width="159.2" height="7" fill="#78adc5"/>
<rect x="2387.8" y="1092" width="79.6" height="7" fill="#8cc7c1"/>
<rect x="2467.4" y="1092" width="80.6" height="7" fill="#7bafc5"/>
<rect x="145" y="1099" width="14" height="8" fill="#76aac6"/>
<rect x="159" y="1099" width="318.4" height="8" fill="#82bcc3"/>
<rect x="477.4" y="1099" width="79.6" height="8" fill="#8ac6c1"/>
<rect x="557" y="1099" width="79.6" height="8" fill="#bde0bc"/>
<rect x="636.6" y="1099" width="79.6" height="8" fill="#cde6bb"/>
<rect x="716.2" y="1099" width="79.6" height="8" fill="#92ccc0"/>
<rect x="795.8" y="1099" width="159.2" height="8" fill="#8ac6c1"/>
<rect x="955" y="1099" width="79.6" height="8" fill="#86c1c2"/>
<rect x="1034.6" y="1099" width="79.6" height="8" fill="#80b8c3"/>
<rect x="1114.2" y="1099" width="318.4" height="8" fill="#7eb4c4"/>
<rect x="1432.6" y="1099" width="636.8" height="8" fill="#7db2c4"/>
<rect x="2069.4" y="1099" width="159.2" height="8" fill="#7bafc5"/>
<rect x="2228.6" y="1099" width="79.6" height="8" fill="#82bcc3"/>
<rect x="2308.2" y="1099" width="159.2" height="8" fill="#80b8c3"/>
<rect x="2467.4" y="1099" width="80.6" height="8" fill="#9fd2bf"/>
<rect x="145" y="1107" width="14" height="8" fill="#7db2c4"/>
<rect x="159" y="1107" width="79.6" height="8" fill="#8ec9c1"/>
<rect x="238.6" y="1107" width="159.2" height="8" fill="#8ac6c1"/>
<rect x="397.8" y="1107" width="79.6" height="8" fill="#82bcc3"/>
<rect x="477.4" y="1107" width="159.2" height="8" fill="#d0e7ba"/>
<rect x="636.6" y="1107" width="79.6" height="8" fill="#bde0bc"/>
<rect x="716.2" y="1107" width="159.2" height="8" fill="#82bcc3"/>
<rect x="875.4" y="1107" width="159.2" height="8" fill="#86c1c2"/>
<rect x="1034.6" y="1107" width="79.6" height="8" fill="#80b8c3"/>
<rect x="1114.2" y="1107" width="398" height="8" fill="#76aac6"/>
<rect x="1512.2" y="1107" width="79.6" height="8" fill="#72a4c7"/>
<rect x="1591.8" y="1107" width="796" height="8" fill="#6e98c6"/>
<rect x="2387.8" y="1107" width="79.6" height="8" fill="#80b8c3"/>
<rect x="2467.4" y="1107" width="80.6" height="8" fill="#8ac6c1"/>
<rect x="145" y="1115" width="14" height="7" fill="#fcfccd"/>
<rect x="159" y="1115" width="159.2" height="7" fill="#e7f2bb"/>
<rect x="318.2" y="1115" width="79.6" height="7" fill="#f5f8c3"/>
<rect x="397.8" y="1115" width="79.6" height="7" fill="#ebf3bd"/>
<rect x="477.4" y="1115" width="79.6" height="7" fill="#d0e7ba"/>
<rect x="557" y="1115" width="79.6" height="7" fill="#c2e2bc"/>
<rect x="636.6" y="1115" width="79.6" height="7" fill="#bde0bc"/>
<rect x="716.2" y="1115" width="238.8" height="7" fill="#c2e2bc"/>
<rect x="955" y="1115" width="159.2" height="7" fill="#a9d7bd"/>
<rect x="1114.2" y="1115" width="1194" height="7" fill="#a5d5be"/>
<rect x="2308.2" y="1115" width="239.8" height="7" fill="#c5e3bc"/>
<rect x="145" y="1122" width="14" height="8" fill="#8ec9c1"/>
<rect x="159" y="1122" width="318.4" height="8" fill="#b8debc"/>
<rect x="477.4" y="1122" width="79.6" height="8" fill="#a9d7bd"/>
<rect x="557" y="1122" width="398" height="8" fill="#98cfc0"/>
<rect x="955" y="1122" width="159.2" height="8" fill="#94cdc0"/>
<rect x="1114.2" y="1122" width="1433.8" height="8" fill="#82bcc3"/>
<rect x="145" y="1130" width="252.8" height="8" fill="#718cbf"/>
<rect x="397.8" y="1130" width="398" height="8" fill="#6f9ac6"/>
<rect x="795.8" y="1130" width="159.2" height="8" fill="#718cbf"/>
<rect x="955" y="1130" width="477.6" height="8" fill="#7288bd"/>
<rect x="1432.6" y="1130" width="79.6" height="8" fill="#7582ba"/>
<rect x="1512.2" y="1130" width="557.2" height="8" fill="#718cbf"/>
<rect x="2069.4" y="1130" width="478.6" height="8" fill="#708dc0"/>
<rect x="145" y="1138" width="1606" height="7" fill="#718bbf"/>
<rect x="1751" y="1138" width="797" height="7" fill="#7484ba"/>
<rect x="145" y="1145" width="1606" height="8" fill="#728abe"/>
<rect x="1751" y="1145" width="797" height="8" fill="#7288bd"/>
<rect x="145" y="1153" width="1606" height="7" fill="#708fc1"/>
<rect x="1751" y="1153" width="797" height="7" fill="#7288bd"/>
<rect x="145" y="1160" width="1606" height="7" fill="#708fc1"/>
<rect x="1751" y="1160" width="797" height="7" fill="#708dc0"/>
<rect x="145" y="1167" width="332.4" height="8" fill="#d77876"/>
<rect x="477.4" y="1167" width="716.4" height="8" fill="#e18273"/>
<rect x="1193.8" y="1167" width="1354.2" height="8" fill="#dd7e74"/>
<rect x="145" y="1175" width="1048.8" height="7" fill="#ed997a"/>
<rect x="1193.8" y="1175" width="1354.2" height="7" fill="#efa17d"/>
<rect x="145" y="1182" width="14" height="7" fill="#6e94c4"/>
<rect x="159" y="1182" width="2389" height="7" fill="#708dc0"/>
<rect x="145" y="1189" width="2403" height="8" fill="#94cdc0"/>
<rect x="145" y="1197" width="2403" height="7" fill="#76aac6"/>
<rect x="145" y="1204" width="2403" height="7" fill="#7288bd"/>
</g>
<g opacity="0.075"><text x="1028" y="749" font-size="155" fill="#1e2f6e" stroke="#1e2f6e" stroke-width="3" stroke-linejoin="round" textLength="711" lengthAdjust="spacing">glassnode</text></g>
<line x1="145" y1="870.5" x2="2588" y2="870.5" stroke="#5b6b7e" stroke-opacity="0.42" stroke-width="1.1" stroke-dasharray="4 4"/>
<line x1="2505.5" y1="248" x2="2505.5" y2="1211" stroke="#4d5a6b" stroke-opacity="0.5" stroke-width="1" stroke-dasharray="4 3"/>
<rect x="2466" y="862" width="85" height="14" fill="#c4e4a4" stroke="#22262e" stroke-width="1.5"/>
<clipPath id="hm"><rect x="145" y="248" width="2403" height="963"/></clipPath>
<polyline clip-path="url(#hm)" fill="none" stroke="#000" stroke-width="3.2" stroke-linejoin="round" stroke-linecap="square" points="119.2,1138.4 198.8,1126 278.4,1117.3 358,1117.3 437.6,1123.5 517.2,1106.5 596.8,1108.6 676.4,1093.4 756,1038.1 835.6,1037.2 915.2,1029.1 994.8,992 1074.4,961.2 1154,1018.6 1233.6,1046.8 1313.2,1055.2 1392.8,1056.5 1472.4,1039.7 1552,1053 1631.6,948.8 1711.2,934.8 1790.8,950.8 1870.4,961.7 1950,954.6 2029.6,966.1 2109.2,1008.7 2188.8,1122.5 2268.4,1102.2 2348,1116.2 2427.6,1114.7 2507.2,1116.6"/>
<rect x="198.8" y="1212" width="1.5" height="16" fill="#e2e2e2"/>
<rect x="358" y="1212" width="1.5" height="16" fill="#e2e2e2"/>
<rect x="517.2" y="1212" width="1.5" height="16" fill="#e2e2e2"/>
<rect x="676.4" y="1212" width="1.5" height="16" fill="#e2e2e2"/>
<rect x="835.6" y="1212" width="1.5" height="16" fill="#e2e2e2"/>
<rect x="994.8" y="1212" width="1.5" height="16" fill="#e2e2e2"/>
<rect x="1154" y="1212" width="1.5" height="16" fill="#e2e2e2"/>
<rect x="1313.2" y="1212" width="1.5" height="16" fill="#e2e2e2"/>
<rect x="1472.4" y="1212" width="1.5" height="16" fill="#e2e2e2"/>
<rect x="1631.6" y="1212" width="1.5" height="16" fill="#e2e2e2"/>
<rect x="1790.8" y="1212" width="1.5" height="16" fill="#e2e2e2"/>
<rect x="1950" y="1212" width="1.5" height="16" fill="#e2e2e2"/>
<rect x="2109.2" y="1212" width="1.5" height="16" fill="#e2e2e2"/>
<rect x="2268.4" y="1212" width="1.5" height="16" fill="#e2e2e2"/>
<rect x="2427.6" y="1212" width="1.5" height="16" fill="#e2e2e2"/>
<rect x="2586.8" y="1212" width="1.5" height="16" fill="#e2e2e2"/>
<g font-size="19" fill="#2a2e39" text-anchor="middle">
<text x="198.8" y="1251.3">26 Dec</text>
<text x="358" y="1251.3">28 Dec</text>
<text x="517.2" y="1251.3">30 Dec</text>
<text x="676.4" y="1251.3">01 Jan</text>
<text x="835.6" y="1251.3">03 Jan</text>
<text x="994.8" y="1251.3">05 Jan</text>
<text x="1154" y="1251.3">07 Jan</text>
<text x="1313.2" y="1251.3">09 Jan</text>
<text x="1472.4" y="1251.3">11 Jan</text>
<text x="1631.6" y="1251.3">13 Jan</text>
<text x="1790.8" y="1251.3">15 Jan</text>
<text x="1950" y="1251.3">17 Jan</text>
<text x="2109.2" y="1251.3">19 Jan</text>
<text x="2268.4" y="1251.3">21 Jan</text>
<text x="2427.6" y="1251.3">23 Jan</text>
<text x="2586.8" y="1251.3">25 Jan</text>
</g>
<g font-size="18.6" fill="#2a2e39" text-anchor="end">
<text x="119.2" y="288.9" textLength="36.3" lengthAdjust="spacing">4.8K</text>
<text x="119.2" y="379.0" textLength="36.3" lengthAdjust="spacing">4.6K</text>
<text x="119.2" y="469.1" textLength="36.3" lengthAdjust="spacing">4.4K</text>
<text x="119.2" y="559.2" textLength="36.3" lengthAdjust="spacing">4.2K</text>
<text x="119.2" y="649.3">4K</text>
<text x="119.2" y="739.4" textLength="36.3" lengthAdjust="spacing">3.8K</text>
<text x="119.2" y="829.4" textLength="36.3" lengthAdjust="spacing">3.6K</text>
<text x="119.2" y="919.5" textLength="36.3" lengthAdjust="spacing">3.4K</text>
<text x="119.2" y="1009.6" textLength="36.3" lengthAdjust="spacing">3.2K</text>
<text x="119.2" y="1099.7">3K</text>
<text x="119.2" y="1189.8" textLength="36.3" lengthAdjust="spacing">2.8K</text>
</g>
<defs><linearGradient id="cb" x1="0" y1="0" x2="0" y2="1"><stop offset="0%" stop-color="#a84a6c"/><stop offset="4.8%" stop-color="#be5a70"/><stop offset="9.1%" stop-color="#cd6c73"/><stop offset="12.5%" stop-color="#d77873"/><stop offset="16.7%" stop-color="#e18770"/><stop offset="20.5%" stop-color="#e89676"/><stop offset="24.8%" stop-color="#eeaa80"/><stop offset="29%" stop-color="#f2be8c"/><stop offset="33.3%" stop-color="#f6d098"/><stop offset="37.5%" stop-color="#f8dea5"/><stop offset="41.7%" stop-color="#faebb2"/><stop offset="46%" stop-color="#faf3bc"/><stop offset="49.4%" stop-color="#f9f6c0"/><stop offset="54.6%" stop-color="#f6fac6"/><stop offset="61%" stop-color="#e4f2b9"/><stop offset="65.9%" stop-color="#d2eab6"/><stop offset="70.8%" stop-color="#bee1b9"/><stop offset="76.2%" stop-color="#a0d4be"/><stop offset="80.6%" stop-color="#87c6c0"/><stop offset="85%" stop-color="#76afc5"/><stop offset="89.5%" stop-color="#6c98c6"/><stop offset="93.9%" stop-color="#7087be"/><stop offset="100%" stop-color="#7c70b0"/></linearGradient></defs>
<rect x="2644" y="353" width="40" height="856" fill="url(#cb)"/>
<g font-size="19" fill="#1c1c1c" text-anchor="middle">
<text x="2663.7" y="270">Supply</text>
<text x="2663.7" y="326">4&#8201;M</text>
<text x="2663.7" y="1250.5">16</text>
</g>
<text x="214.2" y="59" font-size="26.4" fill="#2b2b2b" stroke="#2b2b2b" stroke-width="0.5" textLength="456" lengthAdjust="spacing">ETH: Cost Basis Distribution Heatmap</text>
<text x="159.8" y="57.7" font-size="18.8" fill="#858585" textLength="18.9" lengthAdjust="spacing">T1</text>
<text x="2391" y="58" font-size="23.5" fill="#111" textLength="142" lengthAdjust="spacing">Point-in-Time</text>
<g font-size="19.5" fill="#2f2f2f">
<text x="55.2" y="136.1" textLength="152.7" lengthAdjust="spacing">Resolution: 1 Day</text>
<text x="265.4" y="136.1" textLength="154" lengthAdjust="spacing">Period: 6 Months</text>
<text x="476.6" y="136.1" textLength="111.1" lengthAdjust="spacing">Scale Linear</text>
</g>
<polyline points="220.5,126.5 227.2,133.5 233.9,126.5" fill="none" stroke="#444" stroke-width="1.7" stroke-linecap="round" stroke-linejoin="round"/>
<polyline points="431.4,126.5 438.1,133.5 444.8,126.5" fill="none" stroke="#444" stroke-width="1.7" stroke-linecap="round" stroke-linejoin="round"/>
<polyline points="607.1,126.5 613.8,133.5 620.5,126.5" fill="none" stroke="#444" stroke-width="1.7" stroke-linecap="round" stroke-linejoin="round"/>
<circle cx="61.5" cy="193.2" r="6.3" fill="#000"/>
<text x="74.9" y="199.5" font-size="19.6" fill="#111" textLength="340.4" lengthAdjust="spacing">ETH: Cost Basis Distribution Heatmap</text>
<text x="2170.4" y="133.6" font-size="22.5" fill="#4d4d4d" text-anchor="middle">7d</text>
<text x="2224.95" y="133.6" font-size="22.5" fill="#4d4d4d" text-anchor="middle">2w</text>
<text x="2280.5" y="133.6" font-size="22.5" fill="#111" text-anchor="middle">1m</text>
<text x="2337.6" y="133.6" font-size="22.5" fill="#4d4d4d" text-anchor="middle">3m</text>
<text x="2396.35" y="133.6" font-size="22.5" fill="#4d4d4d" text-anchor="middle">6m</text>
<text x="2449.5" y="133.6" font-size="22.5" fill="#4d4d4d" text-anchor="middle">1y</text>
<text x="2509.35" y="133.6" font-size="22.5" fill="#4d4d4d" text-anchor="middle">YTD</text>
<text x="2571.2" y="133.6" font-size="22.5" fill="#4d4d4d" text-anchor="middle">All</text>
<text x="2568" y="208.1" font-size="19" fill="#333" text-anchor="middle" textLength="104.5" lengthAdjust="spacing">Reset zoom</text>
<rect x="76.4" y="41" width="20.7" height="17.5" rx="2" fill="none" stroke="#222" stroke-width="2" stroke-linecap="round" stroke-linejoin="round"/><line x1="82.4" y1="41" x2="82.4" y2="58.5" fill="none" stroke="#222" stroke-width="2" stroke-linecap="round" stroke-linejoin="round"/>
<polygon points="2629.7,41.4 2632.6,47.2 2639.0,48.2 2634.4,52.7 2635.5,59.1 2629.7,56.1 2623.9,59.1 2625.0,52.7 2620.4,48.2 2626.8,47.2" fill="none" stroke="#111" stroke-width="1.9" stroke-linejoin="miter"/>
<g fill="none" stroke="#111" stroke-width="1.8"><line x1="2689.3" y1="48" x2="2696" y2="44.3"/><line x1="2689.3" y1="51.4" x2="2696" y2="55"/><circle cx="2699.2" cy="42.6" r="3.4"/><circle cx="2686.1" cy="49.7" r="3.4"/><circle cx="2699.2" cy="56.7" r="3.4"/></g>
<path d="M2613 121 V118.5 Q2613 116.6 2615 116.6 H2617 M2620 116.6 H2624 M2627 116.6 H2629 Q2631 116.6 2631 118.5 V120 M2613 124 V127 M2613 130 V132 Q2613 133.8 2615 133.8 H2617" fill="none" stroke="#4a4a4a" stroke-width="1.7" stroke-linecap="round" stroke-linejoin="round"/>
<circle cx="2626.8" cy="129.7" r="5.8" fill="none" stroke="#4a4a4a" stroke-width="1.7" stroke-linecap="round" stroke-linejoin="round"/><line x1="2631" y1="134" x2="2634.8" y2="137.8" fill="none" stroke="#4a4a4a" stroke-width="1.7" stroke-linecap="round" stroke-linejoin="round"/>
<rect x="2680" y="118.5" width="20.5" height="18.3" fill="none" stroke="#333" stroke-width="2.2" stroke-linejoin="miter"/><line x1="2680" y1="124" x2="2700.5" y2="124" fill="none" stroke="#333" stroke-width="2.2" stroke-linejoin="miter"/><line x1="2685.4" y1="115.2" x2="2685.4" y2="120.4" fill="none" stroke="#333" stroke-width="2.2" stroke-linejoin="miter"/><line x1="2695" y1="115.2" x2="2695" y2="120.4" fill="none" stroke="#333" stroke-width="2.2" stroke-linejoin="miter"/>
<path d="M2675.7 195.4 H2680.5 L2682.5 192.6 H2689 L2691 195.4 H2695.6 V208.4 H2675.7 Z" fill="none" stroke="#333" stroke-width="2" stroke-linejoin="miter"/><circle cx="2685.7" cy="201.6" r="3.7" fill="none" stroke="#333" stroke-width="2"/>
</svg>
<div id="tip"><svg width="520" height="96" viewBox="1937 823 520 96">
<text x="1950.4" y="849" font-size="16" fill="#2a2e39" textLength="201" lengthAdjust="spacing">Saturday, Jan 24 2026 UTC</text>
<circle cx="1958" cy="868.8" r="6.9" fill="#000"/>
<text x="1978" y="875.3" font-size="18.8" fill="#333" textLength="153.5" lengthAdjust="spacing">Cost Basis Range:</text>
<text x="2136" y="875.3" font-size="19.5" font-weight="bold" fill="#2b2b2b" textLength="308" lengthAdjust="spacing">3,490.60332375 - 3,510.80389797</text>
<circle cx="1958" cy="892.5" r="6.9" fill="#c3e4a5"/>
<text x="1978" y="898.6" font-size="18.8" fill="#333" textLength="63" lengthAdjust="spacing">Supply:</text>
<text x="2046.4" y="898.6" font-size="19" font-weight="bold" fill="#2b2b2b" textLength="168.6" lengthAdjust="spacing">1,190,317.31067052</text>
</svg></div>
</body></html>
